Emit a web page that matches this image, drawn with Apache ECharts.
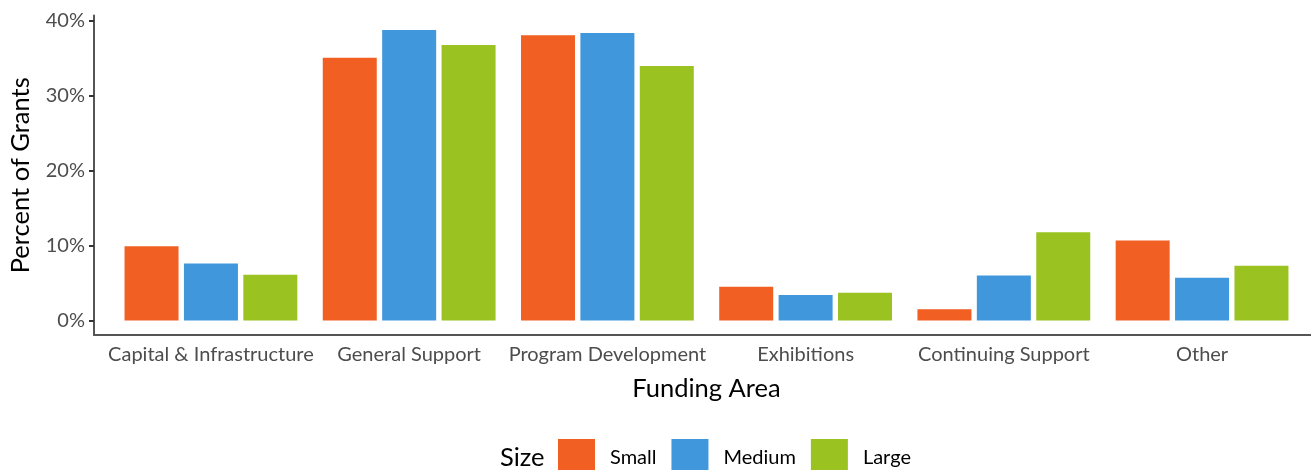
<!DOCTYPE html>
<html><head><meta charset="utf-8">
<script src="https://cdn.jsdelivr.net/npm/echarts@6/dist/echarts.min.js"></script>
<style>html,body{margin:0;padding:0;background:#fff}#c{width:1311px;height:470px}</style>
</head><body><div id="c"></div>
<script>
const categories = ['Capital & Infrastructure','General Support','Program Development','Exhibitions','Continuing Support','Other'];
const small  = [9.9, 35.1, 38.1, 4.5, 1.5, 10.7];
const medium = [7.6, 38.8, 38.4, 3.4, 6.0, 5.7];
const large  = [6.1, 36.8, 34.0, 3.7, 11.8, 7.3];
const seriesNames = ['Small','Medium','Large'];
const yTicks = [0, 10, 20, 30, 40];
const colors = ['#F15F22','#4097DB','#9AC321'];
const FONT = 'Lato';

const chart = echarts.init(document.getElementById('c'), null, {renderer:'canvas'});
const dataMax = Math.max(...small, ...medium, ...large);
const pad = dataMax * 0.05;
const yMin = -pad, yMax = dataMax + pad;

// panel geometry (ggplot-like discrete expansion of 0.6 category units)
const panelLeft = 92, panelWidth = 1229, panelTop = 15.5, panelHeight = 319.5;
const nCat = categories.length;
const band = panelWidth / (nCat - 1 + 1.2);
const innerLeft = panelLeft + 0.1 * band;

const mk = (name, data, i) => ({
  name, type:'bar', data, barWidth:54, barGap:'10%',
  xAxisIndex:0, yAxisIndex:0,
  itemStyle:{color:colors[i]}
});
chart.setOption({
  animation:false,
  textStyle:{fontFamily:FONT},
  title:{text:'Size', left:500, top:445, padding:0,
    textStyle:{fontFamily:FONT, fontSize:25.5, fontWeight:'normal', color:'#000'}},
  legend:{
    data:seriesNames, left:558, top:439, padding:0, itemWidth:37, itemHeight:37, itemGap:15,
    icon:'rect',
    textStyle:{fontFamily:FONT, fontSize:20, color:'#000', padding:[0,0,0,10]}
  },
  grid:[
    {left:innerLeft, top:panelTop, width:band*nCat, height:panelHeight, containLabel:false},
    {left:panelLeft, top:panelTop, width:panelWidth, height:panelHeight, containLabel:false}
  ],
  xAxis:[{
    gridIndex:0, type:'category', data:categories,
    axisLine:{show:false},
    axisTick:{alignWithLabel:true, length:5, lineStyle:{color:'#333', width:2}},
    axisLabel:{color:'#4d4d4d', fontSize:20, fontFamily:FONT, margin:10, interval:0},
    name:'Funding Area', nameLocation:'middle', nameGap:41,
    nameTextStyle:{color:'#000', fontSize:25.5, fontFamily:FONT}
  },{
    gridIndex:1, type:'value', min:0, max:1,
    axisLine:{show:true, onZero:false, lineStyle:{color:'#555', width:2}},
    axisTick:{show:false}, axisLabel:{show:false}, splitLine:{show:false}
  }],
  yAxis:[{
    gridIndex:0, type:'value', min:yMin, max:yMax,
    show:false, splitLine:{show:false}
  },{
    gridIndex:1, type:'value', min:yMin, max:yMax,
    splitLine:{show:false},
    axisLine:{show:true, onZero:false, lineStyle:{color:'#555', width:2}},
    axisTick:{show:true, length:5, customValues:yTicks, lineStyle:{color:'#333', width:2}},
    axisLabel:{customValues:yTicks, formatter:v=>Math.round(v)+'%', color:'#4d4d4d', fontSize:20, fontFamily:FONT, margin:9},
    name:'Percent of Grants', nameLocation:'middle', nameGap:60, nameRotate:90,
    nameTextStyle:{color:'#000', fontSize:25.5, fontFamily:FONT}
  }],
  series:[mk('Small',small,0), mk('Medium',medium,1), mk('Large',large,2)]
});
</script></body></html>
